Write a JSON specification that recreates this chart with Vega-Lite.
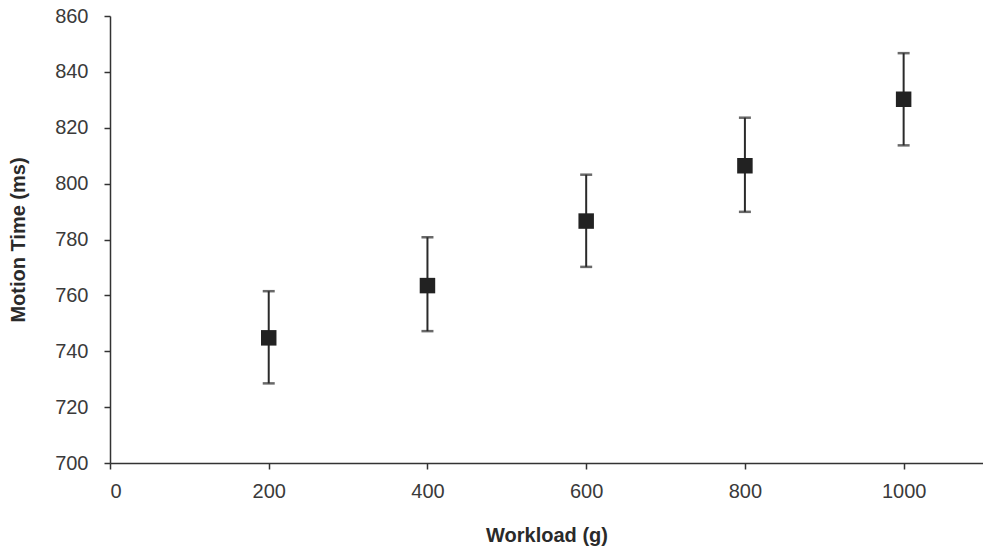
{
  "$schema": "https://vega.github.io/schema/vega-lite/v6.json",
  "width": 873,
  "height": 447,
  "autosize": {"type": "none"},
  "padding": {"left": 110, "top": 16, "right": 0, "bottom": 88},
  "background": "white",
  "config": {
    "view": {"stroke": null},
    "axis": {
      "grid": false,
      "domainColor": "#333333",
      "domainWidth": 1.5,
      "tickColor": "#333333",
      "tickWidth": 1.5,
      "tickSize": 6,
      "labelColor": "#3a3a3a",
      "labelFont": "Liberation Sans",
      "labelFontSize": 20,
      "titleColor": "#2a2a2a",
      "titleFont": "Liberation Sans",
      "titleFontWeight": "bold",
      "titleFontSize": 20
    }
  },
  "data": {
    "values": [
      {"workload": 200, "mean": 744.8, "lo": 728.5, "hi": 761.5},
      {"workload": 400, "mean": 763.5, "lo": 747.2, "hi": 780.8},
      {"workload": 600, "mean": 786.6, "lo": 770.2, "hi": 803.2},
      {"workload": 800, "mean": 806.4, "lo": 789.9, "hi": 823.6},
      {"workload": 1000, "mean": 830.2, "lo": 813.7, "hi": 846.7}
    ]
  },
  "encoding": {
    "x": {
      "field": "workload",
      "type": "quantitative",
      "scale": {"domain": [0, 1100], "nice": false, "zero": false},
      "axis": {
        "title": "Workload (g)",
        "values": [0, 200, 400, 600, 800, 1000],
        "format": "d",
        "labelPadding": 12,
        "titlePadding": 24
      }
    }
  },
  "layer": [
    {
      "mark": {"type": "rule", "color": "#2a2a2a", "strokeWidth": 2},
      "encoding": {
        "y": {
          "field": "lo",
          "type": "quantitative",
          "scale": {"domain": [700, 860], "nice": false, "zero": false},
          "axis": {
            "title": "Motion Time (ms)",
            "values": [700, 720, 740, 760, 780, 800, 820, 840, 860],
            "format": "d",
            "labelPadding": 16,
            "titlePadding": 26
          }
        },
        "y2": {"field": "hi"}
      }
    },
    {
      "mark": {"type": "tick", "orient": "horizontal", "color": "#2a2a2a", "size": 12, "thickness": 2.5},
      "encoding": {"y": {"field": "lo", "type": "quantitative"}}
    },
    {
      "mark": {"type": "tick", "orient": "horizontal", "color": "#2a2a2a", "size": 12, "thickness": 2.5},
      "encoding": {"y": {"field": "hi", "type": "quantitative"}}
    },
    {
      "mark": {"type": "square", "filled": true, "color": "#222222", "opacity": 1, "size": 240},
      "encoding": {"y": {"field": "mean", "type": "quantitative"}}
    }
  ]
}
